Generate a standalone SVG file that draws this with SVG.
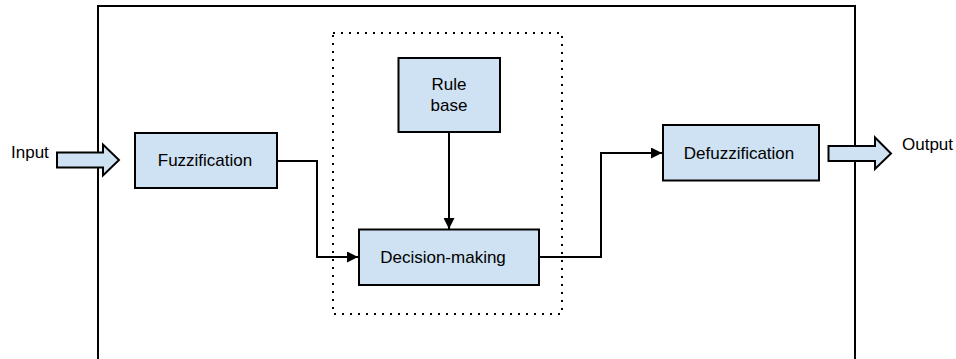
<svg xmlns="http://www.w3.org/2000/svg" width="956" height="359" viewBox="0 0 956 359">
<style>
.box{fill:#cfe2f3;stroke:#000;stroke-width:2}
.lbl{font-family:"Liberation Sans",Arial,sans-serif;font-size:17px;fill:#000}
.mid{text-anchor:middle}
.wire{fill:none;stroke:#000;stroke-width:2}
.frame{fill:none;stroke:#000;stroke-width:2}
.dots{fill:none;stroke:#000;stroke-width:2;stroke-dasharray:2 6}
</style>
<defs>
<marker id="ah" viewBox="0 0 10 10" refX="10" refY="5" markerWidth="5.5" markerHeight="5.5" orient="auto" markerUnits="strokeWidth">
<path d="M0,0 L10,5 L0,10 z" fill="#000"/>
</marker>
</defs>
<rect width="956" height="359" fill="#fff"/>
<g id="frame">
<path class="frame" d="M98,359 V6 H855 V359"/>
<rect class="dots" x="333" y="33" width="229" height="281"/>
</g>
<g id="connectors">
<path class="wire" d="M277,161 H317 V257 H358" marker-end="url(#ah)"/>
<path class="wire" d="M449,132 V229" marker-end="url(#ah)"/>
<path class="wire" d="M540,257 H601 V153 H662" marker-end="url(#ah)"/>
</g>
<g id="input">
<path class="box" d="M57,152.5 H103 V144.5 L119,160 L103,175.5 V167.5 H57 z"/>
<text class="lbl" x="11" y="158">Input</text>
</g>
<g id="fuzzification">
<rect class="box" x="135" y="133" width="142" height="55"/>
<text class="lbl mid" x="205" y="166">Fuzzification</text>
</g>
<g id="rule-base">
<rect class="box" x="398.5" y="58" width="101.5" height="74"/>
<text class="lbl mid" x="449" y="90">Rule</text>
<text class="lbl mid" x="449" y="111">base</text>
</g>
<g id="decision-making">
<rect class="box" x="359" y="229.5" width="180" height="55.5"/>
<text class="lbl mid" x="443" y="263">Decision-making</text>
</g>
<g id="defuzzification">
<rect class="box" x="663" y="125" width="156" height="55.5"/>
<text class="lbl mid" x="739" y="159">Defuzzification</text>
</g>
<g id="output">
<path class="box" d="M828.5,146 H875 V137.5 L891,153.5 L875,169 V161 H828.5 z"/>
<text class="lbl" x="902" y="150">Output</text>
</g>
</svg>
